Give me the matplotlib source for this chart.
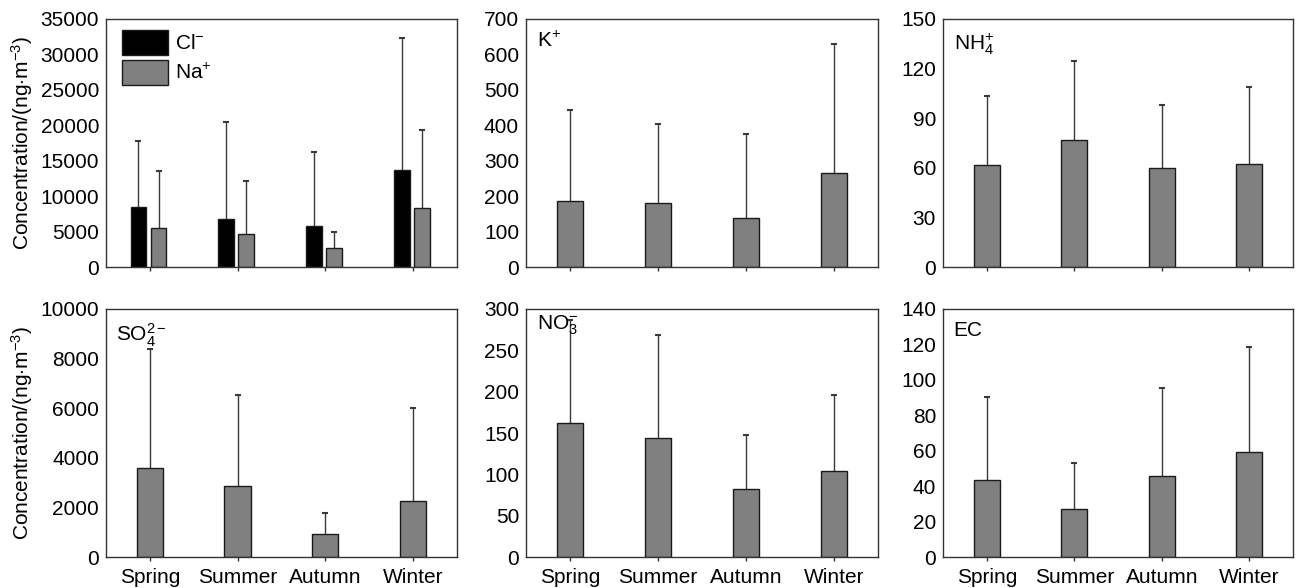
import matplotlib
matplotlib.use('Agg')
import matplotlib.pyplot as plt
import numpy as np

plt.rcParams['font.family'] = ['Liberation Sans', 'DejaVu Sans']
plt.rcParams['mathtext.fontset'] = 'custom'
plt.rcParams['mathtext.rm'] = 'Liberation Sans'
plt.rcParams['mathtext.it'] = 'Liberation Sans'

seasons = ['Spring', 'Summer', 'Autumn', 'Winter']

# mean and mean+sd (top of error bar)
cl_mean = [8500, 6770, 5780, 13670]
cl_top = [17760, 20480, 16160, 32370]
na_mean = [5500, 4650, 2680, 8270]
na_top = [13480, 12170, 4890, 19400]

k_mean = [187, 180, 139, 266]
k_top = [443, 404, 374, 629]

nh4_mean = [61.6, 77.1, 59.6, 62.2]
nh4_top = [103.3, 124.8, 97.9, 108.9]

so4_mean = [3600, 2850, 940, 2255]
so4_top = [8400, 6540, 1785, 6000]

no3_mean = [162, 144, 82, 104]
no3_top = [287, 269, 147, 196]

ec_mean = [43.4, 27.2, 45.5, 59.0]
ec_top = [90.4, 53.0, 95.3, 118.4]

ylims = [35000, 700, 150, 10000, 300, 140]
ysteps = [5000, 100, 30, 2000, 50, 20]

grey = '#808080'
edge = '#1a1a1a'
ecol = '#3a3a3a'
FS = 15

fig = plt.figure(figsize=(13, 5.88), dpi=100)
lefts = [0.0815, 0.4046, 0.7254]
widths = [0.27, 0.2708, 0.2692]
bottoms = [0.5459, 0.0527]
h = 0.4218

axes = []
for r in range(2):
    for c in range(3):
        ax = fig.add_axes([lefts[c], bottoms[r], widths[c], h])
        axes.append(ax)

x = np.arange(len(seasons))


def style(ax, i, bottom_row):
    ax.set_xlim(-0.5, 3.5)
    ax.set_ylim(0, ylims[i])
    ax.set_yticks(np.arange(0, ylims[i] + 1, ysteps[i]))
    ax.set_xticks(x)
    if bottom_row:
        ax.set_xticklabels(seasons, fontsize=FS)
    else:
        ax.set_xticklabels([])
    ax.tick_params(axis='x', length=3, width=1, color='#333333', pad=5)
    ax.tick_params(axis='y', length=0, labelsize=FS, pad=5)
    for s in ax.spines.values():
        s.set_color('#333333')
        s.set_linewidth(1)


def upbar(ax, xs, mean, top):
    # only the upper half of the error bar, with a small cap
    ax.vlines(xs, mean, top, color=ecol, linewidth=1, zorder=1)
    ax.plot(xs, top, linestyle='none', marker='_', markersize=5,
            markeredgewidth=1.5, color=ecol, zorder=1)


def single(ax, mean, top):
    ax.bar(x, mean, width=0.3, color=grey, edgecolor=edge, linewidth=1, zorder=2)
    upbar(ax, x, mean, top)


# panel 1: Cl- and Na+
ax = axes[0]
ax.bar(x - 0.13, cl_mean, width=0.18, color='black', edgecolor=edge, linewidth=1,
       label='Cl$^{-}$', zorder=2)
ax.bar(x + 0.10, na_mean, width=0.18, color=grey, edgecolor=edge, linewidth=1,
       label='Na$^{+}$', zorder=2)
upbar(ax, x - 0.13, cl_mean, cl_top)
upbar(ax, x + 0.10, na_mean, na_top)
ax.legend(loc='upper left', frameon=False, fontsize=FS, handlelength=2.2,
          handleheight=1.45, handletextpad=0.35, labelspacing=0.25,
          borderpad=0, borderaxespad=0, bbox_to_anchor=(0.046, 0.955))
style(ax, 0, False)
ax.set_ylabel('Concentration/(ng$\\cdot$m$^{-3}$)', fontsize=FS)

single(axes[1], k_mean, k_top)
style(axes[1], 1, False)
axes[1].text(0.03, 0.95, 'K$^{+}$', transform=axes[1].transAxes, fontsize=FS,
             ha='left', va='top')

single(axes[2], nh4_mean, nh4_top)
style(axes[2], 2, False)
axes[2].text(0.03, 0.95, 'NH$_4^{+}$', transform=axes[2].transAxes, fontsize=FS,
             ha='left', va='top')

single(axes[3], so4_mean, so4_top)
style(axes[3], 3, True)
axes[3].set_ylabel('Concentration/(ng$\\cdot$m$^{-3}$)', fontsize=FS)
axes[3].text(0.03, 0.95, 'SO$_4^{2-}$', transform=axes[3].transAxes, fontsize=FS,
             ha='left', va='top')

single(axes[4], no3_mean, no3_top)
style(axes[4], 4, True)
axes[4].text(0.03, 0.98, 'NO$_3^{-}$', transform=axes[4].transAxes, fontsize=FS,
             ha='left', va='top')

single(axes[5], ec_mean, ec_top)
style(axes[5], 5, True)
axes[5].text(0.03, 0.95, 'EC', transform=axes[5].transAxes, fontsize=FS,
             ha='left', va='top')

fig.savefig('out.png', dpi=100)
